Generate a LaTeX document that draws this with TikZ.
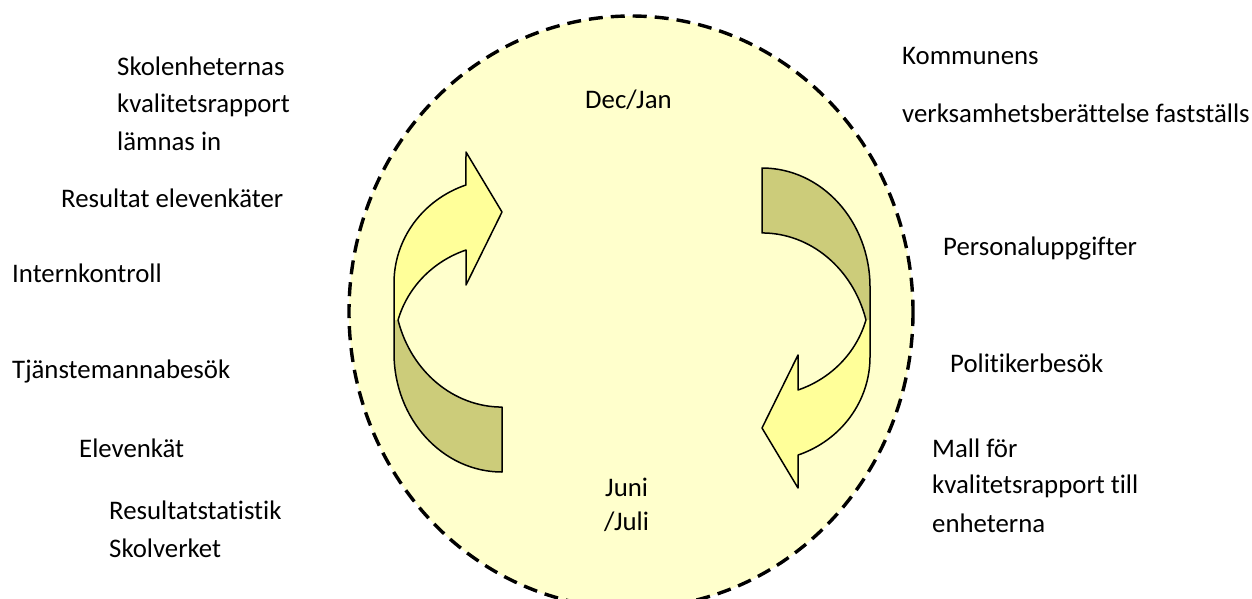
\documentclass[tikz,border=0pt]{standalone}
\usepackage{fontspec}
\setmainfont{Carlito}[Ligatures={NoCommon,NoContextual}]
\definecolor{bgfill}{HTML}{FFFFCC}
\definecolor{frontc}{HTML}{FFFF99}
\definecolor{backc}{HTML}{CCCC7A}
\newcommand{\curvedarrowshape}{%
  \fill[backc] (502,407) -- (502,472) arc[start angle=90, end angle=180, x radius=108, y radius=119]
     -- (394,320) -- (398,320) arc[start angle=164.4, end angle=90, x radius=108, y radius=119] -- cycle;
  \fill[frontc] (394,320) -- (394,283) arc[start angle=180, end angle=250.5, x radius=108, y radius=104]
     -- (466,152) -- (502,212) -- (466,285) -- (466,250)
     arc[start angle=250.5, end angle=195.6, x radius=108, y radius=104] -- cycle;
  \draw[arrowline] (502,407) -- (502,472) arc[start angle=90, end angle=180, x radius=108, y radius=119]
     -- (394,283) arc[start angle=180, end angle=250.5, x radius=108, y radius=104]
     -- (466,152) -- (502,212) -- (466,285) -- (466,250)
     arc[start angle=250.5, end angle=195.6, x radius=108, y radius=104]
     arc[start angle=164.4, end angle=90, x radius=108, y radius=119] -- cycle;
}
\begin{document}
\begin{tikzpicture}[x=1pt,y=-1pt,
  lbl/.style={anchor=base west, inner sep=0pt, font=\fontsize{26.8}{32}\selectfont, text=black},
  arrowline/.style={draw=black, line width=1.5pt, line join=round},
  cycleline/.style={draw=black, line width=3.4pt, dash pattern=on 14pt off 8pt, fill=bgfill}]
\useasboundingbox (0,0) rectangle (1252,598);
\fill[white] (0,0) rectangle (1252,598);
% cycle ellipse
\path[cycleline] (631,312) ellipse [x radius=282, y radius=296];
% left arrow
\begin{scope}
\curvedarrowshape
\end{scope}
% right arrow
\begin{scope}[rotate around={180:(632,320)}]
\curvedarrowshape
\end{scope}
% labels
\node[lbl] (s1) at (117,75) {Skolenheternas};
\node[lbl] (s2) at (117,112) {kvalitetsrapport};
\node[lbl] (s3) at (117,150) {lämnas in};
\node[lbl] (re) at (61,207) {Resultat elevenkäter};
\node[lbl] (ik) at (12,282) {Internkontroll};
\node[lbl] (tb) at (12,378) {Tjänstemannabesök};
\node[lbl] (ek) at (79,457) {Elevenkät};
\node[lbl] (rs1) at (109,519) {Resultatstatistik};
\node[lbl] (rs2) at (109,557) {Skolverket};
\node[lbl] (k1) at (902,64) {Kommunens};
\node[lbl] (k2) at (902,122) {verksamhetsberättelse fastställs};
\node[lbl] (pu) at (943,255) {Personaluppgifter};
\node[lbl] (pb) at (950,372) {Politikerbesök};
\node[lbl] (m1) at (932,457) {Mall för};
\node[lbl] (m2) at (932,493) {kvalitetsrapport till};
\node[lbl] (m3) at (932,532) {enheterna};
\node[lbl] (dj) at (585,108) {Dec/Jan};
\node[lbl] (j1) at (605,496) {Juni};
\node[lbl] (j2) at (604,530) {/Juli};
\end{tikzpicture}
\end{document}
